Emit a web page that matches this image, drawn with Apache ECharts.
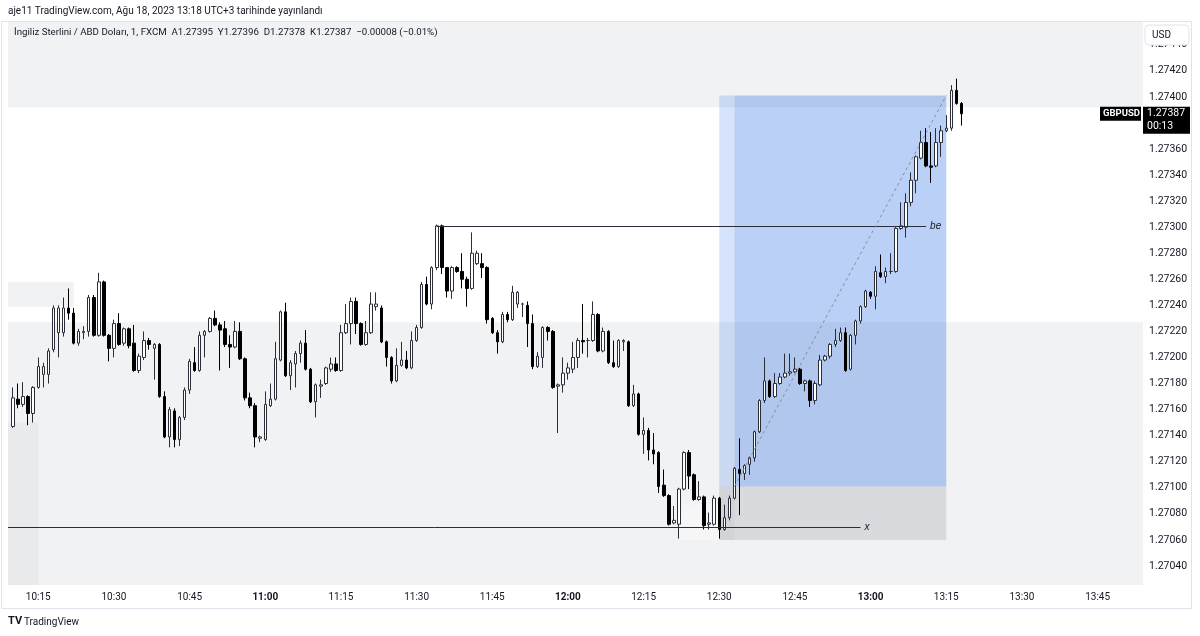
<!DOCTYPE html>
<html lang="tr">
<head>
<meta charset="UTF-8">
<title>GBPUSD 1m</title>
<style>
  html, body { margin: 0; padding: 0; background: #ffffff; }
  #chart { width: 1200px; height: 636px; }
</style>
</head>
<body>
<script src="https://cdn.jsdelivr.net/npm/echarts/dist/echarts.min.js"></script>
<div id="chart"></div>
<script type="text/javascript">

// 1 minute candles, 10:10 .. 13:18
var opens = [
1.27147,1.27168,1.27164,1.27170,1.27157,1.27177,1.27187,1.27187,1.27206,1.27219,
1.27219,1.27238,1.27234,1.27211,1.27219,1.27220,1.27246,1.27217,1.27258,1.27217,
1.27207,1.27226,1.27211,1.27222,1.27211,1.27190,1.27200,1.27213,1.27207,1.27210,
1.27170,1.27139,1.27159,1.27137,1.27154,1.27175,1.27196,1.27190,1.27217,1.27220,
1.27230,1.27225,1.27222,1.27210,1.27208,1.27220,1.27199,1.27169,1.27163,1.27138,
1.27137,1.27163,1.27168,1.27198,1.27235,1.27186,1.27195,1.27203,1.27211,1.27191,
1.27166,1.27178,1.27180,1.27191,1.27195,1.27190,1.27219,1.27226,1.27243,1.27226,
1.27210,1.27219,1.27239,1.27238,1.27212,1.27200,1.27182,1.27194,1.27198,1.27192,
1.27213,1.27223,1.27256,1.27241,1.27269,1.27301,1.27269,1.27251,1.27269,1.27266,
1.27260,1.27253,1.27272,1.27272,1.27269,1.27230,1.27219,1.27212,1.27233,1.27229,
1.27241,1.27241,1.27240,1.27226,1.27193,1.27200,1.27223,1.27220,1.27178,1.27179,
1.27188,1.27191,1.27200,1.27213,1.27213,1.27213,1.27233,1.27205,1.27220,1.27196,
1.27193,1.27212,1.27212,1.27163,1.27172,1.27141,1.27144,1.27129,1.27127,1.27102,
1.27094,1.27073,1.27072,1.27099,1.27127,1.27110,1.27091,1.27093,1.27072,1.27072,
1.27092,1.27068,1.27077,1.27092,1.27114,1.27111,1.27118,1.27123,1.27143,1.27167,
1.27182,1.27170,1.27180,1.27185,1.27188,1.27189,1.27191,1.27180,1.27182,1.27167,
1.27179,1.27198,1.27201,1.27210,1.27213,1.27219,1.27191,1.27217,1.27228,1.27239,
1.27250,1.27247,1.27265,1.27262,1.27266,1.27266,1.27299,1.27300,1.27319,1.27336,
1.27353,1.27365,1.27347,1.27347,1.27365,1.27374,1.27376,1.27405,1.27395
];
var closes = [
1.27169,1.27164,1.27170,1.27157,1.27177,1.27193,1.27193,1.27205,1.27238,1.27238,
1.27238,1.27234,1.27211,1.27220,1.27220,1.27246,1.27217,1.27258,1.27217,1.27207,
1.27226,1.27210,1.27222,1.27209,1.27190,1.27201,1.27213,1.27210,1.27210,1.27170,
1.27139,1.27160,1.27137,1.27154,1.27175,1.27197,1.27190,1.27217,1.27220,1.27230,
1.27225,1.27221,1.27210,1.27208,1.27220,1.27199,1.27169,1.27163,1.27139,1.27139,
1.27164,1.27168,1.27199,1.27235,1.27186,1.27196,1.27203,1.27211,1.27191,1.27166,
1.27179,1.27179,1.27192,1.27195,1.27190,1.27219,1.27226,1.27243,1.27226,1.27210,
1.27219,1.27241,1.27241,1.27212,1.27200,1.27182,1.27194,1.27198,1.27192,1.27213,
1.27223,1.27256,1.27241,1.27269,1.27301,1.27269,1.27251,1.27269,1.27266,1.27260,
1.27253,1.27280,1.27280,1.27269,1.27229,1.27219,1.27212,1.27233,1.27229,1.27250,
1.27250,1.27241,1.27226,1.27193,1.27201,1.27223,1.27220,1.27177,1.27179,1.27188,
1.27192,1.27200,1.27213,1.27212,1.27213,1.27233,1.27205,1.27220,1.27196,1.27193,
1.27213,1.27213,1.27163,1.27172,1.27141,1.27144,1.27129,1.27126,1.27101,1.27094,
1.27072,1.27075,1.27099,1.27127,1.27109,1.27091,1.27093,1.27071,1.27073,1.27092,
1.27068,1.27077,1.27092,1.27115,1.27111,1.27117,1.27123,1.27143,1.27167,1.27182,
1.27170,1.27180,1.27185,1.27188,1.27189,1.27191,1.27180,1.27182,1.27167,1.27180,
1.27198,1.27201,1.27210,1.27213,1.27219,1.27190,1.27217,1.27228,1.27239,1.27251,
1.27247,1.27266,1.27262,1.27266,1.27266,1.27299,1.27301,1.27319,1.27336,1.27354,
1.27365,1.27347,1.27346,1.27365,1.27374,1.27376,1.27405,1.27395,1.27387
];
var highs = [
1.27177,1.27180,1.27181,1.27171,1.27178,1.27200,1.27196,1.27207,1.27240,1.27240,
1.27246,1.27253,1.27238,1.27222,1.27224,1.27248,1.27248,1.27265,1.27259,1.27218,
1.27229,1.27234,1.27223,1.27223,1.27225,1.27203,1.27220,1.27215,1.27211,1.27211,
1.27174,1.27162,1.27161,1.27155,1.27177,1.27199,1.27208,1.27220,1.27221,1.27231,
1.27236,1.27227,1.27228,1.27217,1.27228,1.27227,1.27200,1.27173,1.27165,1.27140,
1.27174,1.27180,1.27212,1.27236,1.27242,1.27198,1.27205,1.27213,1.27221,1.27192,
1.27180,1.27183,1.27193,1.27200,1.27200,1.27225,1.27241,1.27246,1.27246,1.27227,
1.27228,1.27250,1.27250,1.27240,1.27213,1.27201,1.27207,1.27212,1.27205,1.27220,
1.27225,1.27258,1.27262,1.27270,1.27302,1.27302,1.27269,1.27270,1.27270,1.27280,
1.27262,1.27296,1.27282,1.27280,1.27270,1.27231,1.27221,1.27235,1.27235,1.27255,
1.27251,1.27242,1.27243,1.27233,1.27204,1.27224,1.27224,1.27221,1.27180,1.27200,
1.27196,1.27212,1.27215,1.27241,1.27215,1.27243,1.27234,1.27223,1.27221,1.27213,
1.27214,1.27214,1.27213,1.27179,1.27173,1.27154,1.27146,1.27142,1.27128,1.27114,
1.27095,1.27086,1.27100,1.27128,1.27129,1.27111,1.27105,1.27094,1.27081,1.27094,
1.27093,1.27087,1.27094,1.27116,1.27138,1.27118,1.27124,1.27144,1.27168,1.27200,
1.27183,1.27188,1.27188,1.27203,1.27203,1.27200,1.27192,1.27183,1.27183,1.27182,
1.27202,1.27202,1.27211,1.27222,1.27223,1.27223,1.27218,1.27229,1.27240,1.27252,
1.27251,1.27270,1.27279,1.27269,1.27280,1.27300,1.27319,1.27326,1.27342,1.27355,
1.27374,1.27376,1.27373,1.27376,1.27378,1.27386,1.27409,1.27414,1.27396
];
var lows = [
1.27146,1.27161,1.27162,1.27148,1.27150,1.27176,1.27177,1.27180,1.27204,1.27200,
1.27216,1.27229,1.27210,1.27209,1.27214,1.27216,1.27216,1.27216,1.27216,1.27197,
1.27200,1.27209,1.27209,1.27207,1.27189,1.27188,1.27198,1.27206,1.27183,1.27169,
1.27138,1.27131,1.27131,1.27132,1.27152,1.27172,1.27189,1.27189,1.27200,1.27219,
1.27224,1.27190,1.27208,1.27192,1.27207,1.27198,1.27167,1.27161,1.27131,1.27135,
1.27136,1.27162,1.27167,1.27197,1.27185,1.27175,1.27177,1.27196,1.27190,1.27165,
1.27154,1.27169,1.27179,1.27189,1.27189,1.27189,1.27218,1.27210,1.27218,1.27209,
1.27209,1.27218,1.27236,1.27211,1.27193,1.27180,1.27181,1.27193,1.27191,1.27191,
1.27212,1.27222,1.27240,1.27237,1.27267,1.27264,1.27246,1.27245,1.27265,1.27253,
1.27239,1.27252,1.27271,1.27261,1.27226,1.27218,1.27203,1.27211,1.27227,1.27228,
1.27238,1.27231,1.27208,1.27191,1.27192,1.27192,1.27213,1.27176,1.27142,1.27173,
1.27183,1.27188,1.27192,1.27203,1.27200,1.27212,1.27204,1.27204,1.27195,1.27192,
1.27192,1.27205,1.27162,1.27162,1.27140,1.27126,1.27121,1.27118,1.27096,1.27093,
1.27071,1.27072,1.27061,1.27098,1.27099,1.27090,1.27090,1.27068,1.27068,1.27071,
1.27061,1.27067,1.27075,1.27091,1.27079,1.27106,1.27110,1.27120,1.27142,1.27165,
1.27169,1.27169,1.27179,1.27184,1.27186,1.27188,1.27179,1.27174,1.27162,1.27164,
1.27178,1.27197,1.27199,1.27208,1.27212,1.27189,1.27190,1.27210,1.27226,1.27238,
1.27245,1.27237,1.27261,1.27257,1.27264,1.27265,1.27298,1.27292,1.27316,1.27326,
1.27352,1.27346,1.27334,1.27346,1.27354,1.27373,1.27374,1.27394,1.27378
];

// time axis: 10:09 .. 13:54, first candle at 10:10
var firstMinute = 10 * 60 + 9;
var lastMinute = 13 * 60 + 54;
var candleStart = 1;

// drawn levels / zones (prices)
var topZone = [1.27392, 1.274575];
var midZoneTop = 1.27227;
var smallBox = [1.27239, 1.27258];
var leftStripTop = 1.27150;
var plotBottom = 1.270254;
var entryPrice = 1.27101;
var targetPrice = 1.27401;
var stopPrice = 1.27060;
var beLevel = 1.27301;
var xLevel = 1.27070;
var lastClose = 1.27387;

var times = [];
for (var m = firstMinute; m <= lastMinute; m++) {
    var h = Math.floor(m / 60), mm = m % 60;
    times.push(h + ':' + (mm < 10 ? '0' : '') + mm);
}
var candles = [];
for (var i = 0; i < times.length; i++) {
    var k = i - candleStart;
    if (k >= 0 && k < opens.length) {
        candles.push([opens[k], closes[k], lows[k], highs[k]]);
    } else {
        candles.push('-');
    }
}
var lastX = times.length - 1;
var font = 'Roboto, "Noto Sans", sans-serif';
var grey = 'rgba(120,123,134,0.10)';

var myChart = echarts.init(document.getElementById('chart'));

myChart.setOption({
    animation: false,
    backgroundColor: '#ffffff',
    grid: {left: 8, right: 57, top: 18.7, bottom: 44},
    xAxis: {
        type: 'category',
        data: times,
        boundaryGap: false,
        axisLine: {show: false},
        axisTick: {show: false},
        splitLine: {show: false},
        axisLabel: {
            margin: 0,
            color: '#131722',
            fontSize: 10,
            fontFamily: font,
            interval: function (idx, v) { return /:(00|15|30|45)$/.test(v); },
            formatter: function (v) { return /:00$/.test(v) ? '{b|' + v + '}' : v; },
            rich: {b: {fontWeight: 'bold', fontSize: 10, color: '#131722', fontFamily: font}}
        }
    },
    yAxis: {
        type: 'value',
        position: 'right',
        min: 1.2702,
        max: 1.2746,
        interval: 0.0002,
        axisLine: {show: false},
        axisTick: {show: false},
        splitLine: {show: false},
        axisLabel: {
            margin: 6,
            color: '#131722',
            fontSize: 10.5,
            fontFamily: font,
            formatter: function (v) {
                if (v < 1.27035 || v > 1.27450) return '';
                return v.toFixed(5);
            }
        }
    },
    series: [{
        type: 'candlestick',
        data: candles,
        barWidth: 3,
        itemStyle: {
            color: '#ffffff',
            color0: '#000000',
            borderColor: '#2a2e39',
            borderColor0: '#000000',
            borderColorDoji: '#2a2e39',
            borderWidth: 1
        },
        markArea: {
            silent: true,
            label: {show: false},
            data: [
                [{xAxis: 0, yAxis: topZone[0], itemStyle: {color: grey}}, {xAxis: lastX, yAxis: topZone[1]}],
                [{xAxis: 0, yAxis: smallBox[0], itemStyle: {color: grey}}, {xAxis: 12.9, yAxis: smallBox[1]}],
                [{xAxis: 0, yAxis: plotBottom, itemStyle: {color: grey}}, {xAxis: lastX, yAxis: midZoneTop}],
                [{xAxis: 0, yAxis: plotBottom, itemStyle: {color: 'rgba(120,123,134,0.06)'}}, {xAxis: 5.8, yAxis: leftStripTop}],
                [{xAxis: 132.8, yAxis: stopPrice, itemStyle: {color: 'rgba(255,255,255,0.35)'}}, {xAxis: 140.9, yAxis: 1.27087}],
                [{xAxis: 140.9, yAxis: entryPrice, itemStyle: {color: 'rgba(30,100,230,0.18)'}}, {xAxis: 144.0, yAxis: targetPrice}],
                [{xAxis: 144.0, yAxis: entryPrice, itemStyle: {color: 'rgba(30,100,230,0.30)'}}, {xAxis: 186.4, yAxis: targetPrice}],
                [{xAxis: 140.9, yAxis: stopPrice, itemStyle: {color: 'rgba(120,123,134,0.20)'}}, {xAxis: 185.9, yAxis: entryPrice}],
                [{xAxis: 140.9, yAxis: stopPrice, itemStyle: {color: 'rgba(120,123,134,0.06)'}}, {xAxis: 144.0, yAxis: entryPrice}]
            ]
        },
        markLine: {
            silent: true,
            symbol: ['none', 'none'],
            animation: false,
            data: [
                [{coord: [85, beLevel], lineStyle: {color: '#2a2e39', width: 1, type: 'solid'},
                  label: {show: true, position: 'end', formatter: 'be', fontStyle: 'italic', fontSize: 10, color: '#131722', distance: 4}},
                 {coord: [182.3, beLevel]}],
                [{coord: [0, xLevel], lineStyle: {color: '#2a2e39', width: 1, type: 'solid'},
                  label: {show: true, position: 'end', formatter: 'x', fontStyle: 'italic', fontSize: 10, color: '#131722', distance: 4}},
                 {coord: [169, xLevel]}],
                [{coord: [144.3, entryPrice], lineStyle: {color: '#8a8d96', width: 1, type: [3, 3]}, label: {show: false}},
                 {coord: [186.4, targetPrice]}]
            ]
        }
    }]
});

// header, legend, frame and price tags
var yLast = myChart.convertToPixel({yAxisIndex: 0}, lastClose);
myChart.setOption({
    graphic: [
        {type: 'rect', z: 50, silent: true, shape: {x: 1.5, y: 21.5, width: 1190, height: 587},
         style: {fill: 'none', stroke: '#e0e3eb', lineWidth: 1}},
        {type: 'rect', z: 40, silent: true, shape: {x: 0, y: 585, width: 1192, height: 7}, style: {fill: '#ffffff'}},
        {type: 'text', z: 50, left: 8, top: 6,
         style: {text: 'aje11 TradingView.com, Ağu 18, 2023 13:18 UTC+3 tarihinde yayınlandı', fontSize: 10, fontFamily: font, fill: '#131722'}},
        {type: 'text', z: 50, left: 14, top: 28,
         style: {text: 'İngiliz Sterlini / ABD Doları, 1, FXCM  A1.27395  Y1.27396  D1.27378  K1.27387  \u22120.00008 (\u22120.01%)', fontSize: 9.7, fontFamily: font, fill: '#131722'}},
        {type: 'rect', z: 50, silent: true, shape: {x: 1145, y: 25, width: 44, height: 20, r: 4},
         style: {fill: '#ffffff', stroke: '#e0e3eb', lineWidth: 1}},
        {type: 'text', z: 51, left: 1152, top: 30, style: {text: 'USD', fontSize: 10, fontFamily: font, fill: '#131722'}},
        {type: 'rect', z: 50, shape: {x: 1100, y: yLast - 7, width: 41, height: 14}, style: {fill: '#000000'}},
        {type: 'text', z: 51, left: 1103, top: yLast - 5, style: {text: 'GBPUSD', fontSize: 9.5, fontWeight: 'bold', fontFamily: font, fill: '#ffffff'}},
        {type: 'rect', z: 50, shape: {x: 1143, y: yLast - 7, width: 47, height: 27}, style: {fill: '#000000'}},
        {type: 'text', z: 51, left: 1147, top: yLast - 6, style: {text: lastClose.toFixed(5), fontSize: 10.5, fontFamily: font, fill: '#ffffff'}},
        {type: 'text', z: 51, left: 1147, top: yLast + 7, style: {text: '00:13', fontSize: 10.5, fontFamily: font, fill: '#ffffff'}},
        {type: 'text', z: 50, left: 8, top: 616, style: {text: 'TV', fontSize: 11, fontWeight: 'bold', fontFamily: font, fill: '#131722'}},
        {type: 'text', z: 50, left: 24, top: 617, style: {text: 'TradingView', fontSize: 10, fontFamily: font, fill: '#131722'}}
    ]
});

</script>
</body>
</html>
